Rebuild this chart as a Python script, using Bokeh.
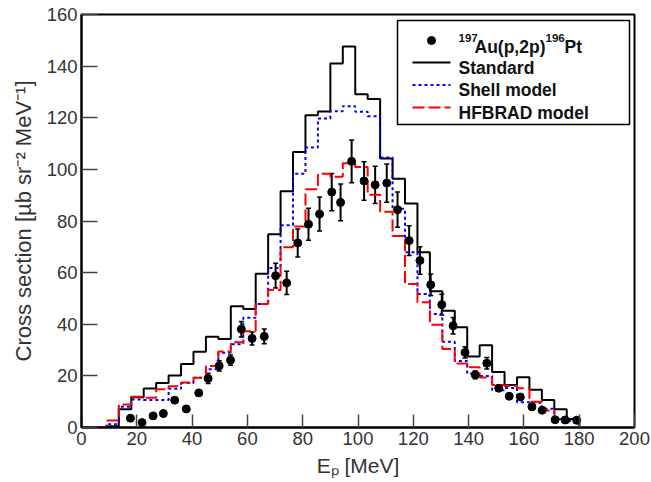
from bokeh.plotting import figure
from bokeh.models import Range1d, ColumnDataSource, Whisker, TeeHead, Label, FixedTicker
from bokeh.embed import file_html
from bokeh.resources import INLINE

# ---------------- data ----------------
bin_edges = [0, 4.5, 9, 13.5, 18, 22.5, 27, 31.5, 36, 40.5, 45, 49.5, 54, 58.5, 63, 67.5,
             72, 76.5, 81, 85.5, 90, 94.5, 99, 103.5, 108, 112.5, 117, 121.5, 126, 130.5,
             135, 139.5, 144, 148.5, 153, 157.5, 162, 166.5, 171, 175.5, 180]

standard = [0, 0, 0.5, 7.1, 11.7, 15.1, 17.2, 20.1, 24.6, 29.3, 35.2, 34.3, 47.0, 45.9,
            59.6, 74.9, 91.5, 106.7, 121.0, 122.4, 141.0, 147.6, 129.1, 127.3, 104.2,
            96.4, 86.8, 67.9, 52.8, 45.2, 38.8, 27.5, 31.9, 21.5, 16.5, 19.5, 14.6, 10.7,
            7.1, 3.3]

shell = [0, 0, 1.3, 8.0, 10.8, 10.7, 10.7, 15.0, 17.2, 19.3, 22.6, 29.0, 32.3, 42.5,
         47.8, 61.8, 78.4, 98.3, 108.5, 119.7, 122.5, 124.5, 122.3, 120.6, 104.6, 84.7,
         67.9, 51.7, 44.0, 33.2, 25.8, 20.9, 20.0, 14.4, 15.3, 9.8, 9.6, 7.3, 3.3, 2.5]

hfbrad = [0, 0, 2.7, 8.9, 11.9, 11.5, 14.8, 16.0, 17.4, 19.3, 23.8, 29.4, 33.0, 37.3,
          47.8, 53.3, 69.8, 77.9, 92.3, 98.3, 97.1, 102.4, 100.9, 90.2, 83.6, 74.2, 55.6,
          48.5, 39.8, 30.4, 24.8, 23.3, 19.4, 16.5, 16.1, 15.2, 10.0, 6.6, 3.2, 1.9]

exp_e = [17.7, 21.9, 25.9, 29.6, 33.7, 37.9, 42.4, 45.8, 49.8, 53.9, 57.8, 61.7, 66.1,
         70.2, 74.2, 78.2, 82.1, 86.1, 90.5, 93.7, 97.7, 102.2, 106.2, 110.4, 114.3,
         118.5, 122.4, 126.3, 130.3, 134.4, 138.7, 142.4, 146.6, 150.9, 154.7, 158.7,
         162.9, 166.6, 171.3, 174.9, 179.1]
exp_xs = [3.6, 1.9, 4.5, 5.4, 10.6, 7.2, 13.4, 19.0, 23.9, 26.1, 38.1, 34.5, 35.3, 58.8,
          56.0, 71.5, 78.7, 82.7, 91.2, 87.2, 103.1, 95.5, 94.0, 94.7, 84.4, 72.4, 64.7,
          55.3, 47.6, 39.4, 29.1, 20.4, 24.9, 15.2, 12.1, 11.8, 8.0, 6.7, 3.0, 2.9, 2.8]
exp_err = [0.5, 0.5, 0.5, 0.5, 0.8, 0.8, 1.0, 2.0, 2.0, 2.0, 3.0, 2.5, 2.9, 4.8, 4.5, 5.4,
           6.2, 6.6, 7.2, 7.1, 8.3, 7.5, 7.2, 7.4, 6.8, 5.8, 5.3, 4.2, 4.0, 3.2, 2.2, 1.5,
           2.2, 1.2, 1.0, 1.0, 0.8, 0.8, 0.5, 0.5, 0.5]

x_ticks = [0, 20, 40, 60, 80, 100, 120, 140, 160, 180, 200]
y_ticks = [0, 20, 40, 60, 80, 100, 120, 140, 160]

legend_labels = ["Standard", "Shell model", "HFBRAD model"]
x_title = "E\u209a [MeV]"
y_title = "Cross section [\u00b5b sr\u207b\u00b2 MeV\u207b\u00b9]"

# ---------------- figure ----------------
p = figure(width=651, height=482, x_range=Range1d(0, 200), y_range=Range1d(0, 160),
           output_backend="svg", toolbar_location=None, title=None,
           min_border_left=81, min_border_right=17, min_border_top=14, min_border_bottom=55)
p.background_fill_color = "white"
p.border_fill_color = "white"
p.xgrid.visible = False
p.ygrid.visible = False
p.outline_line_color = "black"
p.outline_line_width = 2
p.outline_line_alpha = 1

FONT = "Liberation Sans"
for ax in (p.xaxis[0], p.yaxis[0]):
    ax.axis_line_width = 2
    ax.axis_line_color = "black"
    ax.major_tick_out = 0
    ax.major_tick_line_color = "#444444"
    ax.major_tick_line_width = 1.5
    ax.minor_tick_line_color = None
    ax.major_label_text_font = FONT
    ax.major_label_text_font_size = "18.5px"
    ax.major_label_text_color = "#333333"
    ax.major_label_standoff = 4
    ax.axis_label_text_font = FONT
    ax.axis_label_text_font_style = "normal"
    ax.axis_label_text_color = "#333333"
    ax.axis_label_text_font_size = "21px"
p.xaxis.major_tick_in = 13
p.yaxis.major_tick_in = 16
p.xaxis.ticker = FixedTicker(ticks=x_ticks)
p.yaxis.ticker = FixedTicker(ticks=y_ticks)
p.xaxis.axis_label = x_title
p.yaxis.axis_label = y_title
p.xaxis.axis_label_standoff = 6
p.yaxis.axis_label_standoff = 8
p.yaxis.axis_label_text_font_size = "22px"

# pixel -> data helpers for annotation placement inside the frame
FX0, FX1, FY0, FY1 = 81.0, 634.0, 427.0, 14.0
def dx(px):
    return (px - FX0) / (FX1 - FX0) * 200.0
def dy(py):
    return (FY0 - py) / (FY0 - FY1) * 160.0

# ---------------- histograms ----------------
p.step(x=bin_edges, y=standard + [0], mode="after", line_color="black", line_width=2)
p.step(x=bin_edges, y=shell + [0], mode="after", line_color="#0000ff", line_width=2,
       line_dash="3 3")
p.step(x=bin_edges, y=hfbrad + [0], mode="after", line_color="#ff0000", line_width=2,
       line_dash="12 4")

# ---------------- data points ----------------
src = ColumnDataSource(dict(x=exp_e, y=exp_xs,
                            lo=[v - e for v, e in zip(exp_xs, exp_err)],
                            hi=[v + e for v, e in zip(exp_xs, exp_err)]))
p.add_layout(Whisker(source=src, base="x", lower="lo", upper="hi", dimension="height",
                     line_color="black", line_width=2,
                     upper_head=TeeHead(size=5, line_width=1.5, line_color="black"),
                     lower_head=TeeHead(size=5, line_width=1.5, line_color="black")))
p.scatter("x", "y", source=src, size=8, color="black")

# ---------------- legend (drawn by hand, ROOT style) ----------------
p.quad(left=[dx(397)], right=[dx(629)], top=[dy(20)], bottom=[dy(124)],
       fill_color="white", line_color="black", line_width=1.5)
p.scatter([dx(431)], [dy(40)], size=8, color="black")
p.line([dx(412), dx(450)], [dy(62), dy(62)], line_color="black", line_width=2)
p.line([dx(412), dx(450)], [dy(84.5), dy(84.5)], line_color="#0000ff", line_width=2,
       line_dash="3 3")
p.line([dx(412), dx(450)], [dy(107), dy(107)], line_color="#ff0000", line_width=2,
       line_dash="12 4")

def lab(text, px, py, size, bold=False, color="#111111"):
    p.add_layout(Label(x=dx(px), y=dy(py), text=text, text_font=FONT,
                       text_font_size=size, text_font_style="bold" if bold else "normal",
                       text_color=color, text_baseline="alphabetic", text_align="left"))

LS = "17.5px"
lab("197", 458, 37, "11.5px", True)
lab("Au(p,2p)", 474, 46, LS, True)
lab("196", 545, 37, "11.5px", True)
lab("Pt", 564, 46, LS, True)
lab(legend_labels[0], 458, 67.5, LS, True)
lab(legend_labels[1], 458, 89.5, LS, True)
lab(legend_labels[2], 458, 112, LS, True)

open("out.html", "w").write(file_html(p, INLINE))
